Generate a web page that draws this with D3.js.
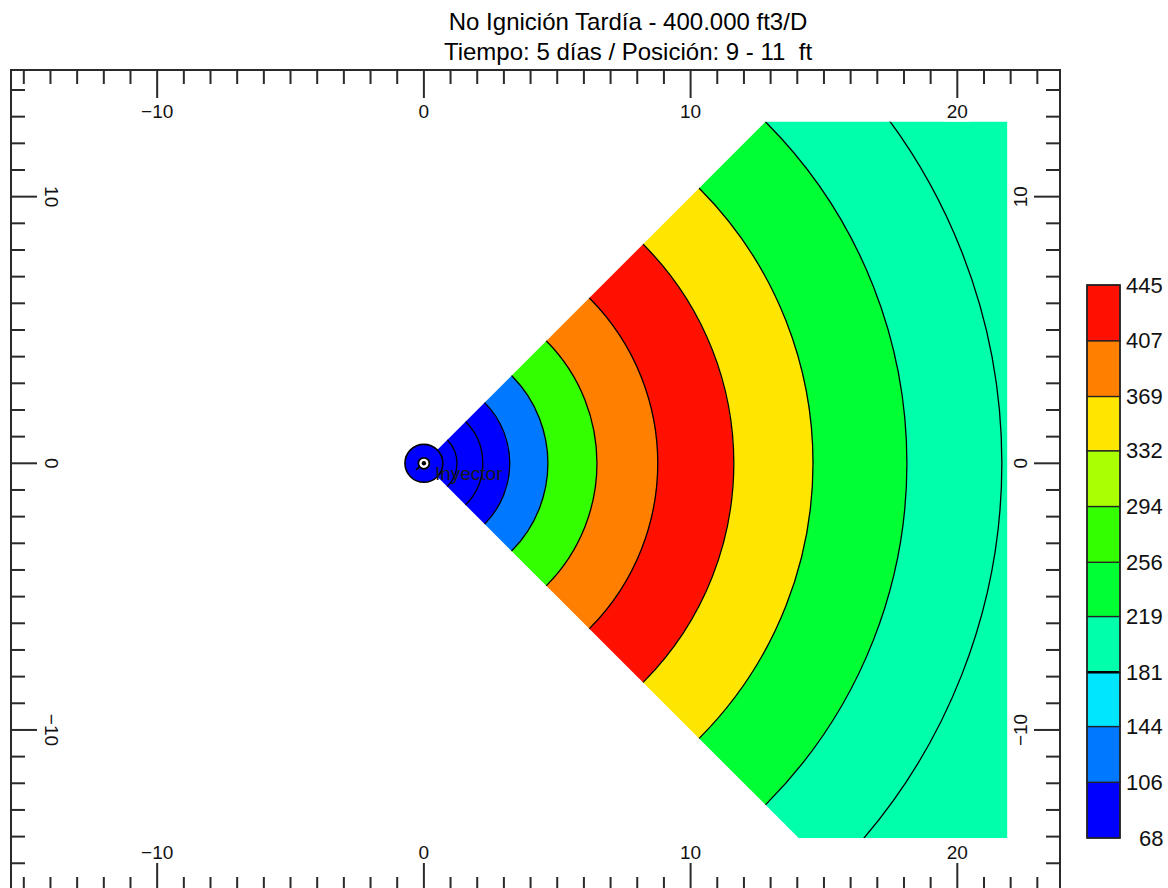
<!DOCTYPE html>
<html>
<head>
<meta charset="utf-8">
<script src="https://cdn.jsdelivr.net/npm/d3@7"></script>
<style>
  body { margin: 0; background: #fff; }
  svg { display: block; }
  text { font-family: "Liberation Sans", Arial, sans-serif; }
</style>
</head>
<body>
<svg id="chart" width="1168" height="888"></svg>
<script>
// ---- Titles ----
const titleLines = ["No Ignición Tardía - 400.000 ft3/D", "Tiempo: 5 días / Posición: 9 - 11  ft"];

// ---- Temperature classes shown in the colour bar ----
const levels = [68, 106, 144, 181, 219, 256, 294, 332, 369, 407, 445];
const levelColors = ["#0000ff", "#0078ff", "#00e6ff", "#00ffaa", "#00ff33",
                     "#33ff00", "#aaff00", "#ffe600", "#ff8000", "#ff1000"];

// ---- Radial bands around the injector (ft) and their temperature ----
const bandOuterRadius = [3.22, 4.65, 6.49, 8.77, 11.62, 14.59, 18.11, 27.0];
const bandTemperature = [87, 125, 275, 388, 426, 350, 238, 200];
// isolines lying inside a band (ft)
const extraIsolineRadius = [1.24, 2.21, 21.67];

// ---- Injector ----
const injector = { name: "Inyector", x: 0, y: 0, radius: 0.71 };

// ---- Simulated sector limits (ft) ----
const sectorHalfAngleDeg = 45;
const gridXMax = 21.87, gridYMax = 12.81, gridYMin = -14.05;

// ---- Axes ----
const xDomain = [-15.48, 23.85];
const yDomain = [-16.04, 14.75];
const xMajorTicks = [-10, 0, 10, 20];
const yMajorTicks = [-10, 0, 10];

const svg = d3.select("#chart");
const frame = { left: 11, right: 1060, top: 70, bottom: 891 };

const x = d3.scaleLinear().domain(xDomain).range([frame.left, frame.right]);
const y = d3.scaleLinear().domain(yDomain).range([frame.bottom, frame.top]);
const ftPx = x(1) - x(0);
const color = d3.scaleThreshold().domain(levels.slice(1, -1)).range(levelColors);

// ---- Clip to the simulated sector ----
const tanA = Math.tan(sectorHalfAngleDeg * Math.PI / 180);
const clipPts = [
  [0, 0], [gridYMax / tanA, gridYMax], [gridXMax, gridYMax],
  [gridXMax, gridYMin], [-gridYMin / tanA, gridYMin]
];
svg.append("defs").append("clipPath").attr("id", "sector")
  .append("polygon")
  .attr("points", clipPts.map(p => [x(p[0]), y(p[1])].join(",")).join(" "));

const plot = svg.append("g").attr("clip-path", "url(#sector)");
const cx = x(injector.x), cy = y(injector.y);
const a0 = Math.PI / 2 - sectorHalfAngleDeg * Math.PI / 180;
const a1 = Math.PI / 2 + sectorHalfAngleDeg * Math.PI / 180;

// filled bands
const arc = d3.arc();
plot.selectAll("path.band")
  .data(bandOuterRadius.map((r, i) => ({
    inner: i === 0 ? 0 : bandOuterRadius[i - 1], outer: r, t: bandTemperature[i]
  })))
  .join("path")
  .attr("class", "band")
  .attr("transform", `translate(${cx},${cy})`)
  .attr("d", d => arc({ innerRadius: d.inner * ftPx, outerRadius: d.outer * ftPx, startAngle: a0 - 0.2, endAngle: a1 + 0.2 }))
  .attr("fill", d => color(d.t))
  .attr("stroke", d => color(d.t))
  .attr("stroke-width", 0.6);

// isolines
const isoRadii = bandOuterRadius.slice(0, -1).concat(extraIsolineRadius);
plot.selectAll("path.iso")
  .data(isoRadii)
  .join("path")
  .attr("class", "iso")
  .attr("d", r => {
    const p = d3.path();
    p.arc(cx, cy, r * ftPx, -Math.PI / 2 + 0.01, Math.PI / 2 - 0.01);
    return p.toString();
  })
  .attr("fill", "none")
  .attr("stroke", "#000")
  .attr("stroke-width", 1.3);

// ---- Injector symbol ----
const inj = svg.append("g").attr("transform", `translate(${cx},${cy})`);
inj.append("circle").attr("r", injector.radius * ftPx)
  .attr("fill", color(bandTemperature[0])).attr("stroke", "#000").attr("stroke-width", 1.6);
inj.append("circle").attr("r", 5.5).attr("fill", "#fff").attr("stroke", "#000").attr("stroke-width", 1.8);
inj.append("circle").attr("r", 2.2).attr("fill", "#000");
inj.append("line").attr("x1", -4.5).attr("y1", 4).attr("x2", -8).attr("y2", 6.5)
  .attr("stroke", "#000").attr("stroke-width", 1.8);
svg.append("text")
  .attr("x", cx + 11).attr("y", cy + 17)
  .attr("font-size", 19).attr("fill", "#1a1a1a")
  .text(injector.name);

// ---- Frame and ticks ----
const axisG = svg.append("g").attr("stroke", "#2a2a2a");
axisG.append("rect")
  .attr("x", frame.left).attr("y", frame.top)
  .attr("width", frame.right - frame.left).attr("height", frame.bottom - frame.top)
  .attr("fill", "none").attr("stroke-width", 2);

const xMinor = d3.range(Math.ceil(xDomain[0]), Math.floor(xDomain[1]) + 1);
const yMinor = d3.range(Math.ceil(yDomain[0]), Math.floor(yDomain[1]) + 1);
const tickLen = v => (v % 10 === 0 ? 28 : 14);

xMinor.forEach(v => {
  const len = tickLen(v);
  axisG.append("line").attr("x1", x(v)).attr("x2", x(v)).attr("y1", frame.top).attr("y2", frame.top + len).attr("stroke-width", 2);
  axisG.append("line").attr("x1", x(v)).attr("x2", x(v)).attr("y1", frame.bottom).attr("y2", frame.bottom - len).attr("stroke-width", 2);
});
yMinor.forEach(v => {
  const len = v % 10 === 0 ? 26 : 14;
  axisG.append("line").attr("y1", y(v)).attr("y2", y(v)).attr("x1", frame.left).attr("x2", frame.left + len).attr("stroke-width", 2);
  axisG.append("line").attr("y1", y(v)).attr("y2", y(v)).attr("x1", frame.right).attr("x2", frame.right - len).attr("stroke-width", 2);
});

// tick labels with a white backing box
const labelG = svg.append("g");
function tickLabel(px, py, rot, str) {
  const g = labelG.append("g").attr("transform", `translate(${px},${py}) rotate(${rot})`);
  const bg = g.append("rect").attr("fill", "#fff");
  const t = g.append("text")
    .attr("text-anchor", "middle").attr("dominant-baseline", "central")
    .attr("font-size", 19).attr("fill", "#111").text(str);
  const b = t.node().getBBox();
  bg.attr("x", b.x - 2).attr("y", b.y).attr("width", b.width + 4).attr("height", b.height);
}
xMajorTicks.forEach(v => {
  tickLabel(x(v), 111, 0, d3.format("d")(v));
  tickLabel(x(v), 852, 0, d3.format("d")(v));
});
yMajorTicks.forEach(v => {
  tickLabel(51, y(v), 90, d3.format("d")(v));
  tickLabel(1020, y(v), -90, d3.format("d")(v));
});

// ---- Title ----
svg.append("g").selectAll("text")
  .data(titleLines)
  .join("text")
  .attr("x", 628).attr("y", (d, i) => 30 + i * 30)
  .attr("text-anchor", "middle")
  .attr("font-size", 24).attr("fill", "#000")
  .style("white-space", "pre")
  .text(d => d);

// ---- Colour bar ----
const cb = { x: 1087, w: 33, top: 285, bottom: 838 };
const cy2 = d3.scaleLinear().domain([levels[0], levels[levels.length - 1]]).range([cb.bottom, cb.top]);
const cbG = svg.append("g");
cbG.selectAll("rect.cls")
  .data(d3.pairs(levels))
  .join("rect")
  .attr("class", "cls")
  .attr("x", cb.x).attr("width", cb.w)
  .attr("y", d => cy2(d[1])).attr("height", d => cy2(d[0]) - cy2(d[1]))
  .attr("fill", d => color((d[0] + d[1]) / 2))
  .attr("stroke", "#222").attr("stroke-width", 1.3);
cbG.append("line")
  .attr("x1", cb.x).attr("x2", cb.x + cb.w)
  .attr("y1", cy2(181)).attr("y2", cy2(181))
  .attr("stroke", "#000").attr("stroke-width", 2.6);
cbG.append("rect")
  .attr("x", cb.x).attr("y", cb.top).attr("width", cb.w).attr("height", cb.bottom - cb.top)
  .attr("fill", "none").attr("stroke", "#222").attr("stroke-width", 1.5);
cbG.selectAll("text")
  .data(levels)
  .join("text")
  .attr("x", d => d === levels[0] ? 1139 : 1126)
  .attr("y", d => cy2(d))
  .attr("dominant-baseline", "central")
  .attr("font-size", 22).attr("fill", "#111")
  .text(d => d);
</script>
</body>
</html>
